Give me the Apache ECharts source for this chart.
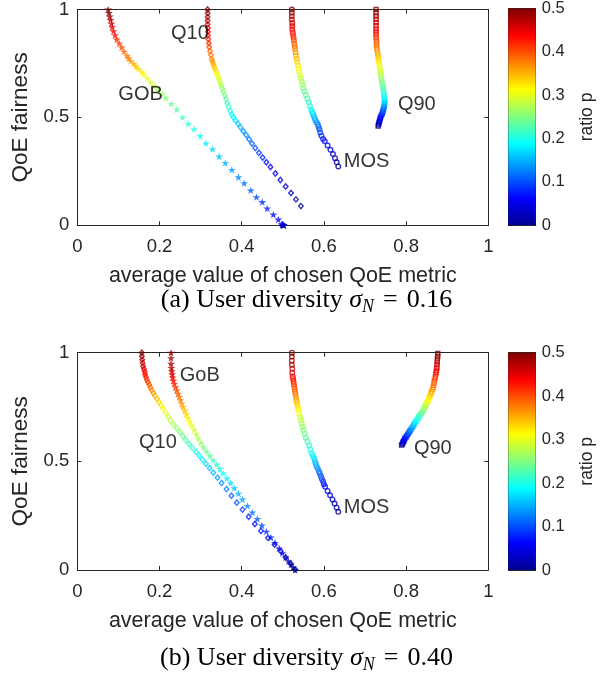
<!DOCTYPE html>
<html><head><meta charset="utf-8">
<script src="https://cdn.jsdelivr.net/npm/echarts@6/dist/echarts.min.js"></script>
<style>html,body{margin:0;padding:0;background:#fff}#c{width:613px;height:681px}</style>
</head><body><div id="c"></div>
<script>
// ratio p for each marker
const P = [0.00,0.01,0.02,0.03,0.04,0.05,0.06,0.07,0.08,0.09,0.10,0.11,0.12,0.13,0.14,0.15,0.16,0.17,0.18,0.19,0.20,0.21,0.22,0.23,0.24,0.25,0.26,0.27,0.28,0.29,0.30,0.31,0.32,0.33,0.34,0.35,0.36,0.37,0.38,0.39,0.40,0.41,0.42,0.43,0.44,0.45,0.46,0.47,0.48,0.49,0.50];

// (a) sigma_N = 0.16
const a_GOB_x = [0.502,0.502,0.501,0.500,0.499,0.498,0.489,0.477,0.462,0.450,0.436,0.422,0.406,0.392,0.376,0.360,0.345,0.329,0.313,0.299,0.284,0.270,0.256,0.242,0.229,0.216,0.207,0.197,0.188,0.179,0.170,0.162,0.156,0.149,0.143,0.137,0.130,0.125,0.121,0.114,0.108,0.102,0.096,0.092,0.088,0.085,0.083,0.081,0.079,0.077,0.075];
const a_GOB_y = [0.000,0.000,0.001,0.002,0.004,0.006,0.027,0.050,0.078,0.108,0.131,0.162,0.195,0.223,0.257,0.289,0.319,0.353,0.380,0.414,0.446,0.470,0.500,0.537,0.563,0.590,0.608,0.627,0.645,0.663,0.682,0.700,0.712,0.725,0.737,0.749,0.762,0.774,0.786,0.805,0.824,0.843,0.862,0.881,0.900,0.918,0.935,0.952,0.968,0.984,1.000];
const a_Q10_x = [0.544,0.532,0.520,0.507,0.494,0.482,0.470,0.460,0.451,0.442,0.433,0.425,0.418,0.411,0.404,0.397,0.391,0.385,0.380,0.376,0.372,0.368,0.365,0.362,0.359,0.356,0.353,0.350,0.348,0.345,0.343,0.341,0.338,0.335,0.333,0.331,0.329,0.327,0.325,0.323,0.321,0.320,0.319,0.318,0.318,0.318,0.317,0.317,0.317,0.317,0.317];
const a_Q10_y = [0.089,0.120,0.150,0.180,0.210,0.240,0.270,0.292,0.314,0.336,0.358,0.379,0.399,0.418,0.436,0.454,0.471,0.486,0.500,0.513,0.530,0.548,0.566,0.584,0.602,0.620,0.634,0.648,0.661,0.674,0.687,0.700,0.712,0.724,0.736,0.748,0.759,0.770,0.789,0.807,0.826,0.844,0.862,0.880,0.897,0.914,0.931,0.948,0.965,0.983,1.000];
const a_MOS_x = [0.635,0.631,0.627,0.622,0.616,0.609,0.602,0.598,0.594,0.591,0.589,0.587,0.585,0.582,0.579,0.577,0.575,0.573,0.571,0.569,0.566,0.563,0.560,0.556,0.553,0.550,0.548,0.546,0.544,0.542,0.540,0.538,0.537,0.535,0.534,0.532,0.531,0.530,0.529,0.528,0.527,0.526,0.525,0.524,0.523,0.523,0.523,0.522,0.522,0.522,0.522];
const a_MOS_y = [0.273,0.292,0.311,0.330,0.350,0.370,0.390,0.400,0.415,0.430,0.445,0.457,0.468,0.478,0.488,0.498,0.508,0.518,0.526,0.535,0.553,0.570,0.587,0.604,0.620,0.636,0.651,0.666,0.681,0.697,0.712,0.727,0.742,0.757,0.772,0.787,0.802,0.817,0.830,0.843,0.856,0.869,0.882,0.895,0.908,0.923,0.938,0.954,0.969,0.985,1.000];
const a_Q90_x = [0.732,0.733,0.734,0.735,0.736,0.737,0.738,0.740,0.742,0.743,0.744,0.745,0.746,0.747,0.747,0.748,0.748,0.748,0.747,0.747,0.746,0.745,0.744,0.743,0.742,0.741,0.740,0.739,0.738,0.737,0.736,0.735,0.734,0.733,0.732,0.731,0.730,0.729,0.728,0.728,0.728,0.727,0.727,0.727,0.727,0.727,0.727,0.727,0.727,0.727,0.727];
const a_Q90_y = [0.460,0.467,0.474,0.481,0.488,0.495,0.502,0.510,0.518,0.525,0.532,0.539,0.546,0.553,0.560,0.567,0.574,0.581,0.588,0.596,0.608,0.620,0.632,0.644,0.656,0.668,0.681,0.693,0.706,0.718,0.731,0.743,0.756,0.768,0.781,0.794,0.807,0.820,0.832,0.845,0.858,0.871,0.884,0.897,0.910,0.925,0.940,0.955,0.970,0.985,1.000];

// (b) sigma_N = 0.40
const b_GoB_x = [0.530,0.525,0.520,0.514,0.507,0.499,0.491,0.481,0.471,0.460,0.449,0.438,0.426,0.414,0.402,0.392,0.382,0.373,0.364,0.355,0.347,0.339,0.331,0.323,0.315,0.307,0.301,0.295,0.289,0.284,0.278,0.274,0.269,0.265,0.261,0.257,0.254,0.251,0.248,0.245,0.242,0.239,0.236,0.234,0.232,0.231,0.230,0.229,0.228,0.228,0.228];
const b_GoB_y = [0.000,0.012,0.025,0.040,0.058,0.078,0.100,0.125,0.150,0.177,0.205,0.235,0.265,0.295,0.325,0.352,0.377,0.400,0.422,0.445,0.465,0.485,0.505,0.525,0.545,0.565,0.585,0.605,0.625,0.645,0.665,0.683,0.700,0.717,0.734,0.751,0.767,0.782,0.797,0.812,0.827,0.842,0.857,0.872,0.886,0.900,0.915,0.930,0.950,0.975,1.000];
const b_Q10_x = [0.530,0.519,0.507,0.495,0.480,0.464,0.447,0.432,0.417,0.402,0.388,0.375,0.363,0.351,0.341,0.331,0.322,0.313,0.305,0.297,0.289,0.280,0.272,0.264,0.257,0.250,0.242,0.234,0.227,0.221,0.215,0.209,0.204,0.199,0.194,0.189,0.185,0.181,0.178,0.175,0.172,0.169,0.167,0.165,0.164,0.162,0.160,0.159,0.158,0.157,0.157];
const b_Q10_y = [0.003,0.030,0.058,0.087,0.117,0.148,0.180,0.212,0.245,0.278,0.310,0.342,0.372,0.400,0.425,0.448,0.469,0.489,0.508,0.526,0.544,0.562,0.580,0.598,0.616,0.634,0.652,0.670,0.688,0.706,0.724,0.742,0.758,0.773,0.788,0.802,0.815,0.828,0.840,0.852,0.864,0.876,0.888,0.900,0.912,0.925,0.938,0.953,0.968,0.984,1.000];
const b_MOS_x = [0.635,0.631,0.626,0.621,0.615,0.609,0.603,0.600,0.598,0.595,0.593,0.590,0.588,0.585,0.582,0.580,0.578,0.576,0.573,0.570,0.567,0.564,0.560,0.556,0.553,0.550,0.548,0.546,0.544,0.542,0.540,0.538,0.537,0.535,0.534,0.533,0.532,0.531,0.530,0.529,0.528,0.527,0.526,0.525,0.524,0.523,0.523,0.522,0.522,0.522,0.522];
const b_MOS_y = [0.268,0.287,0.306,0.325,0.344,0.364,0.383,0.395,0.407,0.419,0.431,0.443,0.454,0.466,0.478,0.490,0.502,0.514,0.526,0.537,0.555,0.573,0.591,0.609,0.627,0.644,0.659,0.674,0.689,0.704,0.719,0.736,0.748,0.760,0.772,0.784,0.796,0.808,0.819,0.831,0.843,0.855,0.867,0.879,0.890,0.908,0.926,0.945,0.963,0.982,1.000];
const b_Q90_x = [0.789,0.791,0.792,0.793,0.795,0.796,0.797,0.800,0.802,0.804,0.806,0.808,0.810,0.812,0.815,0.817,0.819,0.821,0.824,0.826,0.829,0.831,0.834,0.837,0.840,0.842,0.844,0.846,0.848,0.850,0.852,0.854,0.856,0.858,0.860,0.862,0.864,0.866,0.867,0.868,0.869,0.871,0.872,0.873,0.874,0.875,0.875,0.876,0.876,0.877,0.877];
const b_Q90_y = [0.575,0.580,0.585,0.590,0.595,0.600,0.606,0.612,0.618,0.624,0.630,0.636,0.642,0.648,0.655,0.662,0.669,0.676,0.683,0.690,0.698,0.706,0.713,0.721,0.728,0.736,0.744,0.751,0.759,0.767,0.774,0.782,0.792,0.801,0.811,0.820,0.830,0.840,0.850,0.862,0.874,0.886,0.898,0.910,0.920,0.932,0.945,0.958,0.971,0.984,0.997];

// curve labels [x, y, text]
const a_labels = [[0.274,0.889,'Q10'],[0.154,0.605,'GOB'],[0.704,0.296,'MOS'],[0.826,0.560,'Q90']];
const b_labels = [[0.298,0.894,'GoB'],[0.196,0.588,'Q10'],[0.704,0.288,'MOS'],[0.865,0.560,'Q90']];

const X_TICKS = 0.2, Y_TICKS = 0.5, CB_TICKS = 0.1;
const P_MIN = 0, P_MAX = 0.5;
const JET = ['#00008F','#0000FF','#0080FF','#00FFFF','#80FF80','#FFFF00','#FF8000','#FF0000','#800000'];

const FS = '"Liberation Sans", Arial, Helvetica, sans-serif';
const SERIF = '"Liberation Serif", "Times New Roman", serif';
const AX = '#262626';

const SYM_CIRCLE = 'path://M0 5A5 5 0 1 1 10 5A5 5 0 1 1 0 5ZM2.3 5A2.7 2.7 0 1 0 7.7 5A2.7 2.7 0 1 0 2.3 5Z';
const SYM_DIAMOND = 'path://M5 0L10 5L5 10L0 5ZM5 2.9L2.9 5L5 7.1L7.1 5Z';
const SYM_SQUARE = 'path://M0 0L10 0L10 10L0 10ZM2.6 2.6L2.6 7.4L7.4 7.4L7.4 2.6Z';
const SYM_STAR = 'path://M5 0L6.117 3.463L9.755 3.455L6.807 5.587L7.939 9.045L5 6.9L2.061 9.045L3.193 5.587L0.245 3.455L3.883 3.463Z';

const GRID_A = {left:77.3, top:7.3, width:411, height:218};
const GRID_B = {left:77.3, top:352.7, width:411, height:217.3};
const CB_A = {left:508.3, top:7.3, width:27.4, height:218};
const CB_B = {left:508.3, top:352.7, width:27.4, height:217.3};

const chart = echarts.init(document.getElementById('c'), null, {renderer:'canvas'});

const lineStyle = {color:AX, width:1};
function mainAxes(g) {
  const xs = [
    {gridIndex:g, type:'value', min:0, max:1, interval:X_TICKS, position:'bottom',
     name:'average value of chosen QoE metric', nameLocation:'middle', nameGap:40,
     nameTextStyle:{fontSize:21.5, color:AX, fontFamily:FS},
     axisLine:{onZero:false, lineStyle}, axisTick:{inside:true, length:4, lineStyle},
     axisLabel:{fontSize:18.5, color:AX, margin:12, fontFamily:FS}, splitLine:{show:false}},
    {gridIndex:g, type:'value', min:0, max:1, interval:X_TICKS, position:'top',
     axisLine:{onZero:false, lineStyle}, axisTick:{inside:true, length:4, lineStyle},
     axisLabel:{show:false}, splitLine:{show:false}}
  ];
  const ys = [
    {gridIndex:g, type:'value', min:0, max:1, interval:Y_TICKS, position:'left',
     name:'QoE fairness', nameLocation:'middle', nameGap:42, nameRotate:90,
     nameTextStyle:{fontSize:22.5, color:AX, fontFamily:FS},
     axisLine:{onZero:false, lineStyle}, axisTick:{inside:true, length:4, lineStyle},
     axisLabel:{fontSize:18.5, color:AX, margin:8, fontFamily:FS}, splitLine:{show:false}},
    {gridIndex:g, type:'value', min:0, max:1, interval:Y_TICKS, position:'right',
     axisLine:{onZero:false, lineStyle}, axisTick:{inside:true, length:4, lineStyle},
     axisLabel:{show:false}, splitLine:{show:false}}
  ];
  return {xs, ys};
}
function cbAxes(g) {
  const xs = [
    {gridIndex:g, type:'value', min:0, max:1, position:'bottom', axisLine:{onZero:false, lineStyle},
     axisTick:{show:false}, axisLabel:{show:false}, splitLine:{show:false}},
    {gridIndex:g, type:'value', min:0, max:1, position:'top', axisLine:{onZero:false, lineStyle},
     axisTick:{show:false}, axisLabel:{show:false}, splitLine:{show:false}}
  ];
  const ys = [
    {gridIndex:g, type:'value', min:P_MIN, max:P_MAX, interval:CB_TICKS, position:'left',
     axisLine:{onZero:false, lineStyle}, axisTick:{inside:true, length:3, lineStyle},
     axisLabel:{show:false}, splitLine:{show:false}},
    {gridIndex:g, type:'value', min:P_MIN, max:P_MAX, interval:CB_TICKS, position:'right',
     name:'ratio p', nameLocation:'middle', nameGap:42, nameRotate:90,
     nameTextStyle:{fontSize:17.5, color:AX, fontFamily:FS},
     axisLine:{onZero:false, lineStyle}, axisTick:{inside:true, length:3, lineStyle},
     axisLabel:{fontSize:16.5, color:AX, margin:6, fontFamily:FS}, splitLine:{show:false}}
  ];
  return {xs, ys};
}

const A = mainAxes(0), B = mainAxes(1), CA = cbAxes(2), CBb = cbAxes(3);
const xAxis = [...A.xs, ...B.xs, ...CA.xs, ...CBb.xs];
const yAxis = [...A.ys, ...B.ys, ...CA.ys, ...CBb.ys];
// axis indices: grid0 x0/y0, grid1 x2/y2, cb grid2 x4/y4, cb grid3 x6/y6

function curve(X, Y, symbol, size, xi, yi) {
  return {type:'scatter', xAxisIndex:xi, yAxisIndex:yi, symbol, symbolSize:size,
          data: X.map((x, i) => [x, Y[i], P[i]]), silent:true};
}
const series = [
  curve(a_GOB_x, a_GOB_y, SYM_STAR, [8,7.5], 0, 0),
  curve(a_Q10_x, a_Q10_y, SYM_DIAMOND, [6.4,7.4], 0, 0),
  curve(a_MOS_x, a_MOS_y, SYM_CIRCLE, [6,6], 0, 0),
  curve(a_Q90_x, a_Q90_y, SYM_SQUARE, [5.4,5.4], 0, 0),
  curve(b_GoB_x, b_GoB_y, SYM_STAR, [8,7.5], 2, 2),
  curve(b_Q10_x, b_Q10_y, SYM_DIAMOND, [6.4,7.4], 2, 2),
  curve(b_MOS_x, b_MOS_y, SYM_CIRCLE, [6,6], 2, 2),
  curve(b_Q90_x, b_Q90_y, SYM_SQUARE, [5.4,5.4], 2, 2)
];
function labelSeries(L, xi, yi) {
  return {type:'scatter', xAxisIndex:xi, yAxisIndex:yi, symbolSize:1, silent:true,
    itemStyle:{color:'rgba(0,0,0,0)'},
    label:{show:true, position:'inside', formatter:'{b}', fontSize:20, color:'#000', fontFamily:FS},
    data: L.map(l => ({name:l[2], value:[l[0], l[1]]}))};
}
series.push(labelSeries(a_labels, 0, 0), labelSeries(b_labels, 2, 2));

function cbSeries(xi, yi) {
  const stops = JET.map((c, i) => ({offset: i / (JET.length - 1), color: c}));
  return {type:'scatter', xAxisIndex:xi, yAxisIndex:yi, data:[], silent:true,
    markArea:{silent:true, itemStyle:{color:new echarts.graphic.LinearGradient(0, 1, 0, 0, stops)},
      data:[[{coord:[0, P_MIN]}, {coord:[1, P_MAX]}]]}};
}
series.push(cbSeries(4, 4), cbSeries(6, 6));

const capStyle = {fontFamily:SERIF, fontSize:26, color:'#000', fontWeight:'normal', lineHeight:32,
  rich:{
    s:{fontFamily:SERIF, fontStyle:'italic', fontSize:26, lineHeight:32},
    n:{fontFamily:SERIF, fontStyle:'italic', fontSize:18, lineHeight:18, verticalAlign:'bottom'},
    e:{fontFamily:SERIF, fontSize:26, lineHeight:32, padding:[0,9,0,9]},
    v:{fontFamily:SERIF, fontSize:26, lineHeight:32}
  }};

chart.setOption({
  animation:false,
  backgroundColor:'#fff',
  title:[
    {text:'(a) User diversity {s|σ}{n|N}{e|=}{v|0.16}', left:'center', top:279, textStyle:capStyle},
    {text:'(b) User diversity {s|σ}{n|N}{e|=}{v|0.40}', left:'center', top:637, textStyle:capStyle}
  ],
  grid:[GRID_A, GRID_B, CB_A, CB_B].map(g => Object.assign({containLabel:false}, g)),
  xAxis, yAxis,
  visualMap:[{type:'continuous', show:false, min:P_MIN, max:P_MAX, dimension:2,
    seriesIndex:[0,1,2,3,4,5,6,7], inRange:{color:JET}}],
  series
});
</script>
</body></html>
